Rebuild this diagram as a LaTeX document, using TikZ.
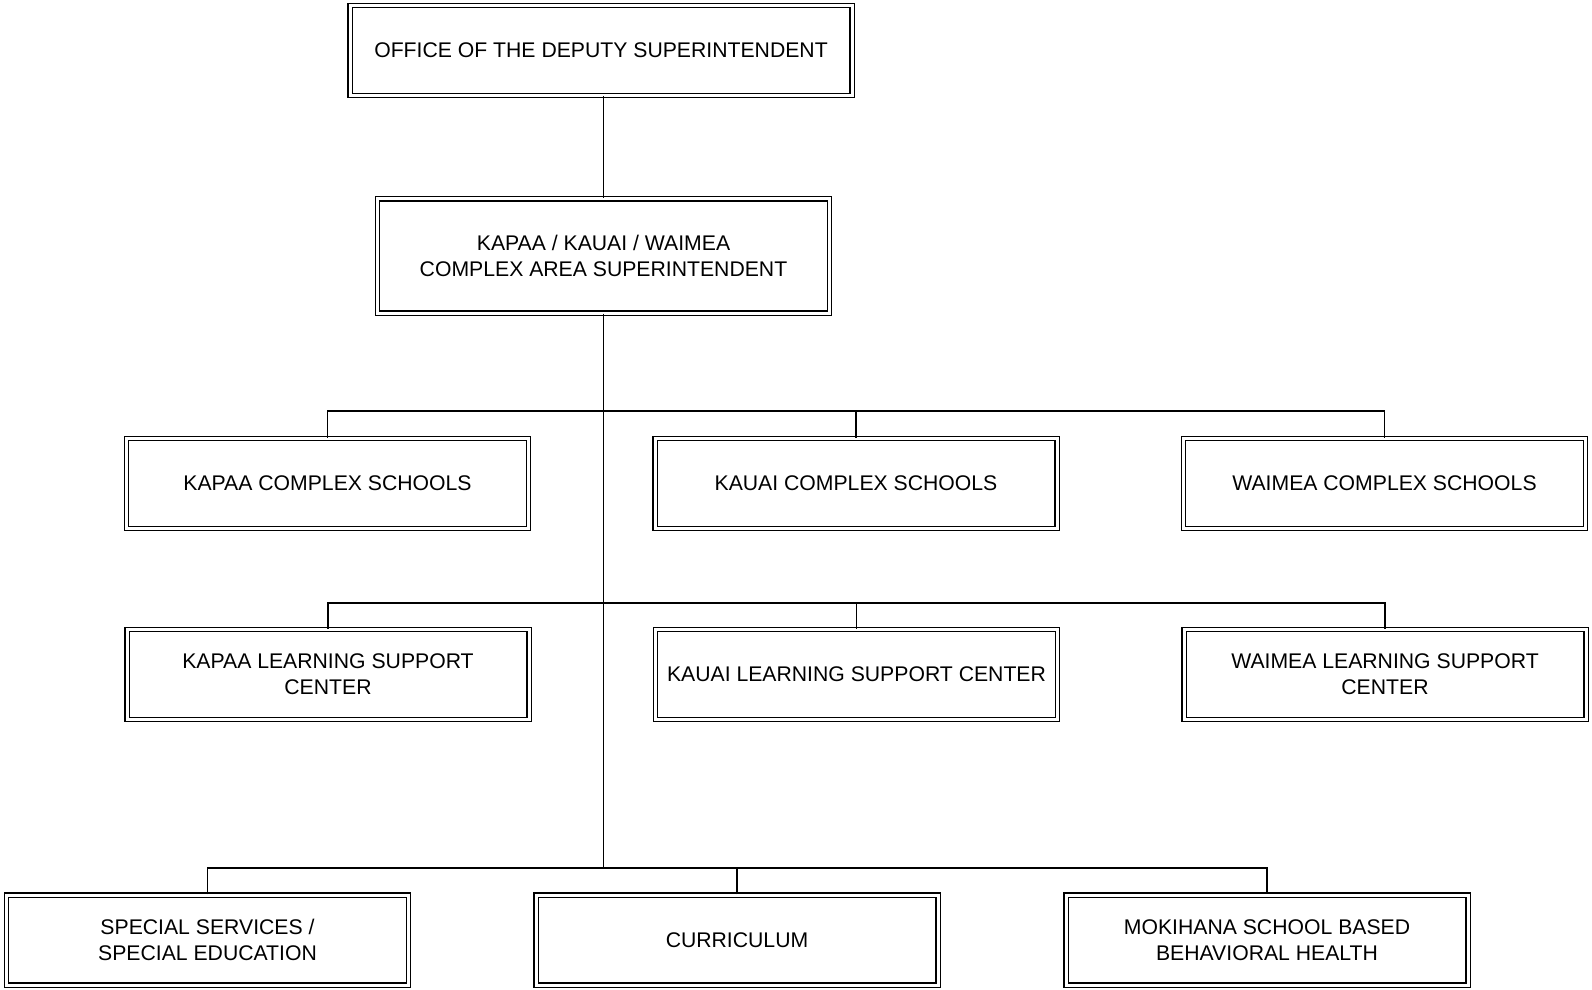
\documentclass[tikz,border=0pt]{standalone}
\usepackage{fontspec}
\setmainfont{Liberation Sans}
\usetikzlibrary{positioning}
\tikzset{
  box/.style={draw=black,double=white,double distance=1.5pt,line width=0.7pt,
    minimum width=#1,minimum height=45pt,align=center,
    font=\fontsize{10.6}{13}\selectfont,inner sep=2pt},
  box/.default=201pt,
  link/.style={draw=black,line width=0.7pt},
}
\begin{document}
\begin{tikzpicture}[x=0.5pt,y=-0.5pt]
  \useasboundingbox (0,0) rectangle (1592,990);
  % top of the chart
  \node[box=251pt] (deputy) at (601,50.5) {OFFICE OF THE DEPUTY SUPERINTENDENT};
  \node[box=226pt,minimum height=57pt] (cas) at (603.5,256)
    {KAPAA / KAUAI / WAIMEA\\COMPLEX AREA SUPERINTENDENT};
  % complex schools
  \node[box] (kapaa) at (327.5,483.5) {KAPAA COMPLEX SCHOOLS};
  \node[box] (kauai) at (856,483.5) {KAUAI COMPLEX SCHOOLS};
  \node[box] (waimea) at (1384.5,483.5) {WAIMEA COMPLEX SCHOOLS};
  % learning support centers
  \node[box] (kapaalsc) at (328,674.5) {KAPAA LEARNING SUPPORT\\CENTER};
  \node[box] (kauailsc) at (856.5,674.5) {KAUAI LEARNING SUPPORT CENTER};
  \node[box] (waimealsc) at (1385,674.5) {WAIMEA LEARNING SUPPORT\\CENTER};
  % support units
  \node[box] (sped) at (207.5,940) {SPECIAL SERVICES /\\SPECIAL EDUCATION};
  \node[box] (curric) at (737,940) {CURRICULUM};
  \node[box] (mokihana) at (1267,940) {MOKIHANA SCHOOL BASED\\BEHAVIORAL HEALTH};
  % bus junctions on the trunk
  \coordinate (b3) at (cas.south |- 0,411);
  \coordinate (b4) at (cas.south |- 0,603);
  \coordinate (b5) at (cas.south |- 0,868);
  % connectors
  \draw[link] (cas.north |- deputy.south) -- (cas.north);
  \draw[link] (cas.south) -- (b5);
  \draw[link] (kapaa.north) |- (b3) -| (waimea.north);
  \draw[link] (kauai.north) -- (kauai.north |- b3);
  \draw[link] (kapaalsc.north) |- (b4) -| (waimealsc.north);
  \draw[link] (kauailsc.north) -- (kauailsc.north |- b4);
  \draw[link] (sped.north) |- (b5) -| (mokihana.north);
  \draw[link] (curric.north) -- (curric.north |- b5);
\end{tikzpicture}
\end{document}
